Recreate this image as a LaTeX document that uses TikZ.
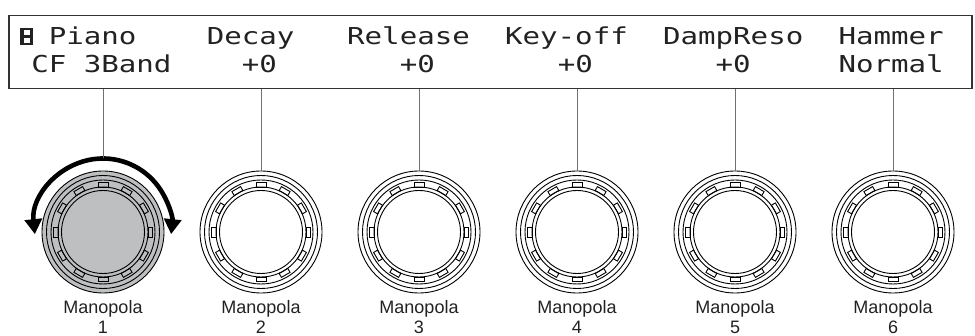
\documentclass[tikz,border=0pt]{standalone}
\usepackage{fontspec}
\setsansfont{Liberation Sans}
\newfontfamily\lcdfont[FakeStretch=1.25]{DejaVu Sans Mono}
\newfontfamily\labelfont{Liberation Sans}
\usetikzlibrary{arrows.meta}
\definecolor{ink}{HTML}{222222}
\definecolor{frame}{HTML}{333333}
\definecolor{wirecol}{HTML}{707070}
\definecolor{knobgray}{HTML}{BEBFC1}
% two-line caption under a knob
\newcommand\knobcap[1]{\labelfont\fontsize{18pt}{20pt}\selectfont
  \begin{tabular}{@{}c@{}}Manopola\\#1\end{tabular}}

\begin{document}
\begin{tikzpicture}[x=1pt, y=-1pt,
  lcd/.style={font=\lcdfont\fontsize{23.3pt}{24pt}\selectfont, text=ink, inner sep=0pt, anchor=base west},
  knob/.style={circle, draw=black, line width=0.9pt, minimum size=122pt, inner sep=0pt},
  ring/.style={draw=black, line width=0.9pt},
  wire/.style={draw=wirecol, line width=0.7pt},
  knoblabel/.style={text=ink, inner sep=0pt, anchor=north},
  turn/.style={line width=4.6pt, draw=black,
    {Triangle[length=15pt,width=17pt]}-{Triangle[length=15pt,width=17pt]}}
]
\useasboundingbox (0,0) rectangle (975,336);

% LCD panel
\node[draw=frame, line width=1.5pt, minimum width=963pt, minimum height=73pt,
      inner sep=0pt, anchor=north west] (lcd) at (8,15) {};

% edit icon in the first cell: a boxed E
\fill[ink] (20,28) rectangle (32.5,45);
\fill[white] (23.6,30.3) rectangle (30.4,35.2);
\fill[white] (23.6,37.6) rectangle (30.4,42.8);

% display text, placed on a character grid (col c at 13.5 + 17.55 c)
\node[lcd] (t1a) at ({13.5+2*17.55},45) {Piano};
\node[lcd] (t2a) at ({13.5+11*17.55},45) {Decay};
\node[lcd] (t3a) at ({13.5+19*17.55},45) {Release};
\node[lcd] (t4a) at ({13.5+28*17.55},45) {Key-off};
\node[lcd] (t5a) at ({13.5+37*17.55},45) {DampReso};
\node[lcd] (t6a) at ({13.5+47*17.55},45) {Hammer};
\node[lcd] (t1b) at ({13.5+1*17.55},73) {CF 3Band};
\node[lcd] (t2b) at ({13.5+13*17.55},73) {+0};
\node[lcd] (t3b) at ({13.5+22*17.55},73) {+0};
\node[lcd] (t4b) at ({13.5+31*17.55},73) {+0};
\node[lcd] (t5b) at ({13.5+40*17.55},73) {+0};
\node[lcd] (t6b) at ({13.5+47*17.55},73) {Normal};

% knobs
\foreach \i in {1,...,6} {
  \ifnum\i=1
    \node[knob, fill=knobgray] (k\i) at ({103+158*(\i-1)},232) {};
  \else
    \node[knob] (k\i) at ({103+158*(\i-1)},232) {};
  \fi
  \foreach \r in {56.5,52,45,41.5}
    \draw[ring] (k\i.center) circle[radius=\r];
  \foreach \a in {0,30,...,330}
    \draw[ring, shift={(k\i.center)}, rotate=\a] (45,-5) rectangle (49.5,5);
}

% captions
\node[knoblabel] (m1) at (103,299) {\knobcap{1}};
\node[knoblabel] (m2) at (261,299) {\knobcap{2}};
\node[knoblabel] (m3) at (419,299) {\knobcap{3}};
\node[knoblabel] (m4) at (577,299) {\knobcap{4}};
\node[knoblabel] (m5) at (735,299) {\knobcap{5}};
\node[knoblabel] (m6) at (893,299) {\knobcap{6}};

% rotation arrow around the first knob
\coordinate (pivot) at (103,227);
\coordinate (turntop) at (103,158.5);
\draw[turn] ([shift={(pivot)}]174:68.5) arc[start angle=174, end angle=366, radius=68.5];

% leader lines from the display to the knobs
\draw[wire] (lcd.south -| turntop) -- (turntop);
\foreach \i in {2,...,6}
  \draw[wire] (lcd.south -| k\i.north) -- (k\i.north);
\end{tikzpicture}
\end{document}
